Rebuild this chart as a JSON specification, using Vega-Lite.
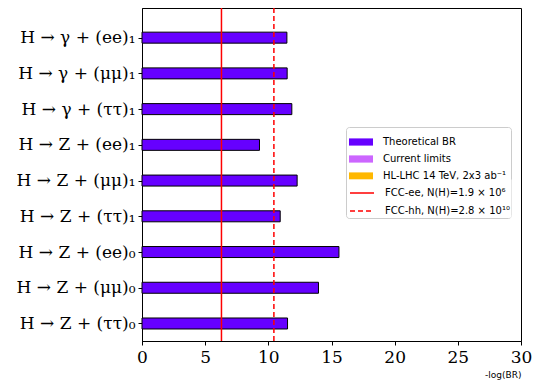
{
  "$schema": "https://vega.github.io/schema/vega-lite/v6.json",
  "width": 379,
  "height": 333,
  "autosize": {"type": "none"},
  "padding": {"left": 142, "top": 8, "right": 18, "bottom": 50},
  "background": "white",
  "view": {"stroke": "black", "strokeWidth": 1},
  "config": {
    "axis": {"grid": false, "domainColor": "black", "tickColor": "black", "labelColor": "black", "tickSize": 4, "domainWidth": 1, "tickWidth": 1}
  },
  "layer": [
    {
      "data": {"values": [
        {"i": 8, "name": "H → γ + (ee)₁", "br": 11.47, "series": "Theoretical BR"},
        {"i": 7, "name": "H → γ + (μμ)₁", "br": 11.49, "series": "Theoretical BR"},
        {"i": 6, "name": "H → γ + (ττ)₁", "br": 11.86, "series": "Theoretical BR"},
        {"i": 5, "name": "H → Z + (ee)₁", "br": 9.30, "series": "Theoretical BR"},
        {"i": 4, "name": "H → Z + (μμ)₁", "br": 12.28, "series": "Theoretical BR"},
        {"i": 3, "name": "H → Z + (ττ)₁", "br": 10.94, "series": "Theoretical BR"},
        {"i": 2, "name": "H → Z + (ee)₀", "br": 15.59, "series": "Theoretical BR"},
        {"i": 1, "name": "H → Z + (μμ)₀", "br": 13.97, "series": "Theoretical BR"},
        {"i": 0, "name": "H → Z + (ττ)₀", "br": 11.52, "series": "Theoretical BR"}
      ]},
      "mark": {"type": "bar", "orient": "horizontal", "size": 11, "stroke": "black", "strokeWidth": 1},
      "encoding": {
        "y": {"field": "i", "type": "quantitative",
          "scale": {"domain": [-0.35, 8.69], "nice": false, "zero": false},
          "axis": {"title": null, "values": [0,1,2,3,4,5,6,7,8],
            "labelExpr": "['H → Z + (ττ)₀','H → Z + (μμ)₀','H → Z + (ee)₀','H → Z + (ττ)₁','H → Z + (μμ)₁','H → Z + (ee)₁','H → γ + (ττ)₁','H → γ + (μμ)₁','H → γ + (ee)₁'][datum.value]",
            "labelFont": "DejaVu Serif", "labelFontSize": 17, "labelPadding": 3, "labelLimit": 300}},
        "x": {"field": "br", "type": "quantitative",
          "scale": {"domain": [0, 30], "nice": false},
          "axis": {"title": "-log(BR)", "values": [0,5,10,15,20,25,30],
            "labelFont": "DejaVu Serif", "labelFontSize": 17, "labelPadding": 4, "labelFlush": false,
            "titleFont": "DejaVu Sans", "titleFontSize": 9, "titleFontWeight": "normal", "titleAnchor": "end", "titlePadding": 5, "titleColor": "black"}},
        "color": {"field": "series", "type": "nominal",
          "scale": {"domain": ["Theoretical BR", "Current limits", "HL-LHC 14 TeV, 2x3 ab⁻¹", "FCC-ee, N(H)=1.9 × 10⁶", "FCC-hh, N(H)=2.8 × 10¹⁰"],
                    "range": ["#6600ff", "#cc66ff", "#ffb800", "transparent", "transparent"]},
          "legend": {
            "title": null, "orient": "none", "legendX": 204, "legendY": 119,
            "padding": 3, "strokeColor": "#cccccc", "cornerRadius": 3, "fillColor": "white",
            "labelFont": "DejaVu Sans", "labelFontSize": 10, "labelColor": "black", "labelLimit": 300,
            "labelExpr": "indexof(datum.label,'FCC')===0 ? 'FCC-hh, N(H)=2.8 × 10¹⁰' : datum.label",
            "symbolType": "M-1,-0.3H1V0.3H-1Z", "symbolSize": 576, "symbolStrokeWidth": 0,
            "labelOffset": 10, "rowPadding": 0
          }}
      }
    },
    {
      "data": {"values": [
        {"x": 6.29, "series": "FCC-ee, N(H)=1.9 × 10⁶"},
        {"x": 10.44, "series": "FCC-hh, N(H)=2.8 × 10¹⁰"}
      ]},
      "mark": {"type": "rule", "strokeWidth": 1.5, "color": "#ff0000"},
      "encoding": {
        "x": {"field": "x", "type": "quantitative"},
        "strokeDash": {"field": "series", "type": "nominal",
          "scale": {"domain": ["FCC-ee, N(H)=1.9 × 10⁶", "FCC-hh, N(H)=2.8 × 10¹⁰"], "range": [[1, 0], [5, 3]]},
          "legend": {
            "title": null, "orient": "none", "legendX": 206, "legendY": 171,
            "padding": 1, "strokeColor": "transparent", "fillColor": "white",
            "labelFont": "DejaVu Sans", "labelFontSize": 10, "labelColor": "black", "labelLimit": 300,
            "symbolType": "M-1,0H1", "symbolSize": 576, "symbolStrokeColor": "#ff0000", "symbolStrokeWidth": 1.5,
            "symbolFillColor": "transparent",
            "labelOffset": 10, "rowPadding": 0
          }}
      }
    }
  ]
}
